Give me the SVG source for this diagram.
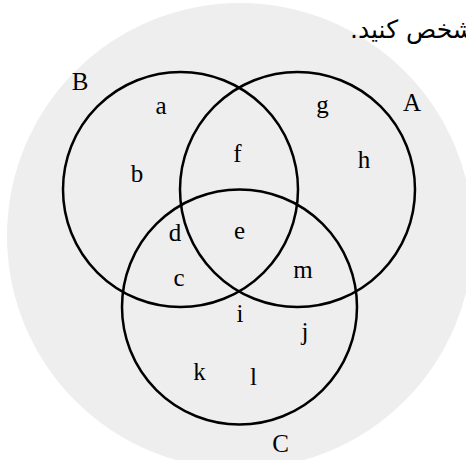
<svg xmlns="http://www.w3.org/2000/svg" width="466" height="460" viewBox="0 0 466 460">
  <style>
    .set { fill: none; stroke: #000; stroke-width: 2.5; }
    .lbl { font-family: "Liberation Serif", "Times New Roman", serif; font-size: 25px; fill: #000; text-anchor: middle; }
    .fa { font-family: "DejaVu Sans", "Noto Sans", sans-serif; font-size: 25px; fill: #000; }
  </style>
  <g id="universe">
    <circle cx="240" cy="236" r="233" fill="#eeeeee"/>
  </g>
  <g id="caption">
    <text class="fa" x="350" y="38" direction="rtl" text-anchor="end">مشخص کنید.</text>
  </g>
  <g id="setB">
    <circle class="set" cx="180.5" cy="189.5" r="117.5"/>
    <text class="lbl" x="80" y="90">B</text>
  </g>
  <g id="setA">
    <circle class="set" cx="297.5" cy="189.5" r="117.5"/>
    <text class="lbl" x="412" y="111">A</text>
  </g>
  <g id="setC">
    <circle class="set" cx="239.5" cy="307" r="117.5"/>
    <text class="lbl" x="280.5" y="452">C</text>
  </g>
  <g id="elements">
    <text class="lbl" x="161" y="114">a</text>
    <text class="lbl" x="137" y="182">b</text>
    <text class="lbl" x="179" y="286">c</text>
    <text class="lbl" x="175" y="241">d</text>
    <text class="lbl" x="239.5" y="239">e</text>
    <text class="lbl" x="237.5" y="162">f</text>
    <text class="lbl" x="322.5" y="113">g</text>
    <text class="lbl" x="364" y="168">h</text>
    <text class="lbl" x="240" y="322">i</text>
    <text class="lbl" x="305" y="340">j</text>
    <text class="lbl" x="199.5" y="380">k</text>
    <text class="lbl" x="253.5" y="385">l</text>
    <text class="lbl" x="303" y="278">m</text>
  </g>
</svg>
